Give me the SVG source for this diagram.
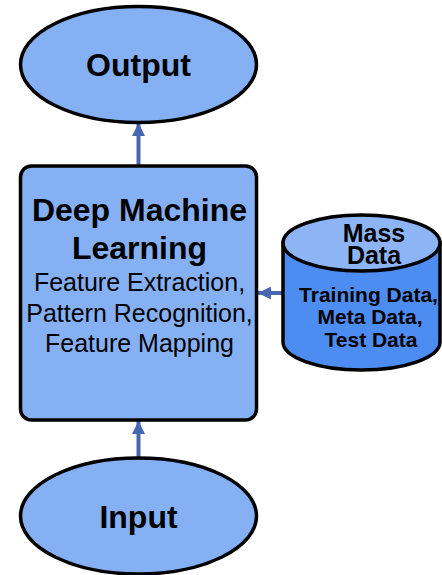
<svg xmlns="http://www.w3.org/2000/svg" width="442" height="575" viewBox="0 0 442 575">
<style>
.n{fill:#85b1f4;stroke:#000;stroke-width:3.5}
.c{stroke:#4767b0;stroke-width:4;fill:none}
text{font-family:"Liberation Sans",Arial,sans-serif;fill:#000;text-anchor:middle}
.b{font-weight:bold}
</style>
<defs>
<marker id="ah" markerWidth="13" markerHeight="13" refX="13" refY="6.5" orient="auto" markerUnits="userSpaceOnUse">
<path d="M0,0 L13,6.5 L0,13 Z" fill="#4767b0"/>
</marker>
</defs>
<rect width="442" height="575" fill="#fff"/>
<g id="connectors">
<line class="c" x1="138.5" y1="166" x2="138.5" y2="123" marker-end="url(#ah)"/>
<line class="c" x1="138.5" y1="458" x2="138.5" y2="421" marker-end="url(#ah)"/>
<line class="c" x1="283" y1="293" x2="258" y2="293" marker-end="url(#ah)"/>
</g>
<g id="output">
<ellipse class="n" cx="138.5" cy="64.5" rx="118" ry="58"/>
<text class="b" x="138.5" y="76" font-size="32">Output</text>
</g>
<g id="dml">
<rect class="n" x="20.5" y="166" width="236" height="254" rx="11"/>
<text class="b" x="139.5" y="221" font-size="32">Deep Machine</text>
<text class="b" x="139.5" y="259" font-size="32">Learning</text>
<text x="139.5" y="291" font-size="25">Feature Extraction,</text>
<text x="139.5" y="322" font-size="25">Pattern Recognition,</text>
<text x="139.5" y="352" font-size="25">Feature Mapping</text>
</g>
<g id="massdata">
<path d="M283,243 L283,342 A78.5,28 0 0 0 440,342 L440,243 Z" fill="#4d8cf0" stroke="#000" stroke-width="3.5"/>
<ellipse cx="361.5" cy="243" rx="78.5" ry="28" fill="#8db5f5" stroke="#000" stroke-width="3.5"/>
<text class="b" x="374" y="242" font-size="25">Mass</text>
<text class="b" x="374" y="264" font-size="25">Data</text>
<text class="b" x="368.5" y="302" font-size="21">Training Data,</text>
<text class="b" x="370" y="324" font-size="21">Meta Data,</text>
<text class="b" x="371" y="347" font-size="21">Test Data</text>
</g>
<g id="input">
<ellipse class="n" cx="138.5" cy="516" rx="118" ry="58"/>
<text class="b" x="138.5" y="528" font-size="32">Input</text>
</g>
</svg>
